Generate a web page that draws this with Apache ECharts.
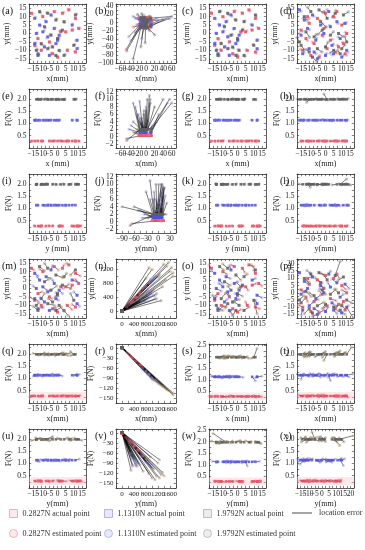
<!DOCTYPE html>
<html><head><meta charset="utf-8">
<script src="https://cdn.jsdelivr.net/npm/echarts@6/dist/echarts.min.js"></script>
<style>html,body{margin:0;padding:0;background:#fff}#c{width:365px;height:550px}</style>
</head><body><div id="c"></div>
<script>
// ---------------- DATA ----------------
const FORCE_LEVELS = [0.2827, 1.1310, 1.9792];
const FORCE_NAMES = ['0.2827N', '1.1310N', '1.9792N'];
const N1 = 18; // points per force level, dataset 1
const N2 = 22; // points per force level, dataset 2

// Dataset 1 actual positions (red block, blue block, grey block)
const X1 = [-16,-9,-2,3,7,11,13,2,5,9,-12,-14,-10,-3,0,6,11,-5,
            -14,-11,-7,-4,-13,-9,-6,-2,-14,-12,-8,-1,1,0,9,12,12,-5,
            -11,-6,-1,4,11,-8,-4,0,-10,-6,-3,1,-13,-12,3,10,4,-1];
const Y1 = [12,10,13,12,14,9,3,1,1,2,-3,-7,-10,-12,-14,-10,-11,-5,
            9,5,7,11,0,1,-2,3,-6,-12,-8,-6,-1,-4,5,-4,-9,-13,
            13,12,8,7,11,4,-1,-3,-6,-9,-8,-10,-10,-13,2,-7,-13,-13];

// Dataset 2 actual positions
const X2 = [-15,-10,-5,0,5,10,13,-12,-7,-2,3,8,12,-14,-9,-4,1,6,11,-11,-1,7,
            -16,-13,-8,-3,2,7,12,-15,-11,-6,-1,4,9,13,-14,-10,-5,0,5,10,-7,3,
            -13,-9,-4,1,6,11,-16,-12,-7,-2,3,8,13,-15,-10,-5,0,5,10,-3,9,-8];
const Y2 = [2,6,9,12,10,5,0,-3,-6,-1,-4,-8,-12,-10,-13,-14,-9,-11,-6,10,3,13,
            14,8,11,5,13,7,6,-1,3,-4,0,-7,-3,-10,-12,-9,-15,-13,-12,-14,-11,4,
            10,13,14,9,12,11,-5,1,-2,2,-1,0,-5,-7,-11,-9,-8,-10,-9,7,-12,-14];

// Method (a): estimation errors
const A_DX = [0.6,-0.4,0.3,0.8,-0.5,0.2,0.7,-0.6,0.4,0.5,-0.3,0.6,0.4,-0.7,0.5,0.3,-0.4,0.6,
  0.5,0.7,-0.4,0.3,0.6,0.8,-0.5,0.4,0.7,0.5,-0.3,0.6,0.4,0.8,0.3,-0.6,0.5,0.7,
  0.4,-0.5,0.6,0.3,0.7,0.5,-0.4,0.6,0.3,0.8,-0.3,0.5,0.6,0.4,-0.6,0.5,0.7,0.3];
const A_DY = [-0.4,0.5,-0.3,0.6,0.4,-0.5,0.3,0.6,-0.4,0.5,0.3,-0.6,0.4,0.5,-0.3,0.6,0.4,-0.5,
  0.6,-0.4,0.5,-0.3,0.4,0.6,-0.5,0.3,0.5,-0.4,0.6,0.3,-0.5,0.4,0.6,-0.3,0.5,0.4,
  -0.5,0.4,0.6,-0.3,0.5,-0.6,0.4,0.3,-0.5,0.6,0.4,-0.4,0.5,0.3,-0.6,0.4,0.5,-0.3];
const A_DF = [0.01,-0.01,0.02,-0.02,0.01,0.01,-0.01,0.02,-0.01,0.01,0.02,-0.01,0.01,-0.02,0.01,0.01,-0.01,0.02,
  0.02,-0.01,0.01,0.02,-0.02,0.01,0.01,-0.01,0.02,0.01,-0.02,0.01,0.02,-0.01,0.01,0.02,-0.01,0.01,
  -0.01,0.02,0.01,-0.02,0.01,0.02,-0.01,0.01,0.02,-0.01,0.01,-0.02,0.02,0.01,-0.01,0.02,0.01,-0.01];

// Method (b): estimated values (large errors)
const B_EX = [-18,-12,-5,2,5,8,10,1,3,6,-46,-20,-14,-6,-2,4,9,-30,
  -30,-25,-15,-5,-22,-12,-8,5,-40,-35,-18,0,10,15,25,30,50,-10,
  -20,-10,0,10,60,-15,-6,3,-25,-12,-5,8,-45,-30,40,55,20,-2];
const B_EY = [10,8,12,10,12,7,2,0,0,1,-66,-9,-13,-15,-16,-12,-13,-11,
  15,10,12,18,-5,3,-4,8,-35,-45,-20,-10,2,-2,10,5,12,-40,
  20,22,12,15,15,6,-3,-5,-25,-60,-12,-20,-70,-90,8,10,-30,-50];
const B_EF = [0.2,0.5,0.3,0.8,0.4,0.2,0.6,0.9,0.3,0.4,-0.5,0.7,0.2,0.5,0.3,0.6,0.4,1.2,
  9,8,9.5,7,6,5,4,5,2,3,6,8,10,3,4,6,9,1,
  2,5,7,9,9,4,3,10,1,4,6,11,-1,4,10,10,8,3];

// Method (c): estimation errors
const C_DX = [-0.5,0.6,0.4,-0.3,0.7,0.5,-0.6,0.3,0.8,-0.4,0.5,0.3,-0.5,0.6,0.4,-0.7,0.5,0.3,
  0.4,-0.6,0.7,0.5,-0.3,0.6,0.4,-0.5,0.3,0.7,0.5,-0.4,0.6,0.3,-0.7,0.5,0.4,-0.3,
  0.7,0.4,-0.6,0.5,0.3,-0.4,0.8,0.5,-0.3,0.6,0.4,-0.5,0.3,0.7,0.5,-0.4,0.6,0.8];
const C_DY = [0.5,-0.3,0.6,0.4,-0.6,0.3,0.5,-0.4,0.6,0.3,-0.5,0.4,0.6,-0.3,0.5,0.4,-0.6,0.3,
  -0.3,0.5,0.4,-0.6,0.3,0.5,0.4,-0.3,0.6,-0.5,0.4,0.3,0.6,-0.4,0.5,0.3,-0.6,0.4,
  0.4,-0.6,0.3,0.5,-0.4,0.6,0.3,-0.5,0.4,0.3,-0.6,0.5,0.4,-0.3,0.6,0.4,-0.5,0.3];
const C_DF = [-0.01,0.02,0.01,-0.01,0.02,-0.02,0.01,0.01,-0.01,0.02,0.01,-0.02,0.01,0.02,-0.01,0.01,0.02,-0.01,
  0.01,0.02,-0.01,0.01,-0.02,0.02,0.01,-0.01,0.01,0.02,-0.01,0.02,0.01,-0.02,0.01,0.01,0.02,-0.01,
  0.02,-0.01,0.01,0.02,-0.02,0.01,0.02,-0.01,0.01,-0.02,0.02,0.01,-0.01,0.02,0.01,-0.01,0.02,0.01];

// Method (d): estimation errors (dataset 2)
const D_DX = [0.8,-0.6,1.2,-0.9,0.7,1.5,-0.8,0.9,-1.1,0.6,1.3,-0.7,0.9,-1.2,0.8,0.6,-1.0,1.1,-0.5,0.9,1.4,-0.8,
  1.0,-0.7,0.9,1.3,-1.1,0.6,0.8,-0.9,1.2,0.7,-0.6,1.0,-1.3,0.8,0.9,-0.7,1.1,0.6,-1.0,0.8,1.2,-0.5,
  1.6,-2.0,2.4,-2.0,-1.8,3.0,-1.5,2.2,1.4,-2.5,1.8,2.6,-1.2,2.0,-1.6,2.8,1.5,-2.2,1.9,3.2,-1.4,2.5];
const D_DY = [-0.7,0.9,-1.1,0.8,-0.6,1.0,0.7,-1.2,0.9,-0.8,0.6,1.1,-0.9,0.7,-1.0,0.8,1.2,-0.6,0.9,-1.1,0.7,0.8,
  -0.9,1.1,-0.7,0.8,1.2,-1.0,0.6,0.9,-0.8,1.3,-0.6,0.7,1.0,-1.1,0.8,-0.9,0.6,1.2,-0.7,0.9,-1.0,0.8,
  -2.0,2.5,-1.6,4.0,-2.2,1.8,2.6,-3.2,1.5,-2.4,2.0,-1.8,3.4,-2.6,1.6,-2.0,2.8,-1.5,2.2,-3.0,1.9,-2.5];
const D_DF = [0.01,-0.01,0.02,-0.01,0.01,0.02,-0.02,0.01,-0.01,0.02,0.01,-0.01,0.02,-0.01,0.01,0.01,-0.02,0.01,0.02,-0.01,0.01,0.02,
  0.02,-0.02,0.01,0.03,-0.01,0.02,-0.03,0.01,0.02,-0.02,0.03,0.01,-0.01,0.02,0.03,-0.02,0.01,0.02,-0.03,0.01,0.02,-0.01,
  0.02,-0.03,0.01,0.22,-0.02,0.03,0.01,-0.02,0.03,-0.01,0.02,0.03,-0.02,0.01,-0.12,0.02,-0.03,0.01,0.02,-0.02,0.03,0.01];

// Method (m): estimation errors
const M_DX = [1.5,-2,2.5,1,-1.5,3,-2,1.5,2,-1,2.5,-3,1,2,-1.5,3,-2,1.5,
  2,-1.5,3,1,-2,2.5,1.5,-1,2,3,-2.5,1.5,2,-1,3,-2,1.5,2.5,
  3,-2,4,1.5,-3,2.5,3.5,-1.5,2,4,-2.5,3,1.5,-3,5,-2,2.5,3.5];
const M_DY = [-1,1.5,-2,2,1,-1.5,2.5,-1,1.5,-2,1,2,-1.5,1,2,-2.5,1.5,-1,
  -1.5,2,-1,2.5,1.5,-2,1,2,-1.5,1,2.5,-1,-2,1.5,-1,2,-1.5,1,
  -2.5,3,-1.5,2,-3,1.5,2.5,-2,3,-1,2,-3.5,1.5,2.5,-2,4,-3,2];
const M_DF = [0.02,-0.03,0.01,0.03,-0.02,0.02,-0.01,0.03,-0.02,0.01,0.02,-0.03,0.02,0.01,-0.02,0.03,-0.01,0.02,
  0.04,-0.03,0.02,0.05,-0.04,0.03,-0.02,0.04,0.03,-0.05,0.02,0.04,-0.03,0.02,0.05,-0.02,0.03,-0.04,
  0.05,-0.04,0.06,0.03,-0.05,0.04,0.02,-0.06,0.05,0.03,-0.04,0.06,-0.03,0.04,0.05,0.12,-0.05,0.04];

// Method (n): estimated values (very large errors)
const N_EX = [300,450,600,200,350,500,700,250,400,550,650,150,800,300,450,900,350,600,
  900,1000,850,1100,950,800,1050,700,1200,900,1000,750,1150,850,950,1100,1000,650,
  1500,1700,1400,1200,1000,1600,1300,1100,900,1450,1250,1550,1350,1650,800,1050,1700,1150];
const N_EY = [250,400,550,180,300,420,650,230,380,500,600,120,700,260,400,800,330,520,
  400,500,350,450,800,300,900,650,1000,450,850,700,350,600,900,1000,550,300,
  1300,1100,1350,1000,1200,1150,300,350,1250,900,1050,1400,700,1250,950,600,1000,500];
const N_EF = [-25,-38,-52,-17,-30,-43,-60,-21,-34,-47,-55,-13,-68,-26,-38,-77,-30,-51,
  -80,-92,-78,-98,-88,-72,-95,-65,-105,-82,-90,-70,-100,-78,-86,-97,-93,-60,
  -125,-140,-118,-105,-90,-130,-112,-96,-80,-122,-108,-128,-115,-135,-72,-95,-135,-100];

// Method (o): estimation errors
const O_DX = [-1.5,2.5,-2,1.5,3,-1,2,-2.5,1.5,2.5,-2,1,3,-1.5,2,-1,2.5,-2,
  -2,1.5,2.5,-1,3,-2.5,1,2,-1.5,3,1.5,-2,2.5,-1.5,2,3,-1,2,
  2.5,-3,3,2,-2.5,3.5,-2,3,2.5,-1.5,4,-3,2,3.5,-2.5,2,3,-2];
const O_DY = [2,-1.5,1,-2.5,-1,2,-1.5,2.5,-2,1,-1.5,2.5,-1,-2,1.5,2,-1,2.5,
  1.5,-2,-1,2.5,-1.5,2,-2.5,1,2,-1,1.5,-2,2.5,1,1,-1.5,2,-2.5,
  -2,2.5,-3,1.5,3,-2,2.5,-1.5,3,-2.5,1.5,2,-3,2.5,-2,-8,2,-3];
const O_DF = [0.02,-0.02,0.03,-0.01,0.02,0.03,-0.02,0.01,0.02,-0.03,0.01,0.02,-0.02,0.03,0.01,-0.02,0.02,0.01,
  0.03,-0.04,0.05,0.02,-0.03,0.04,-0.05,0.03,0.02,-0.04,0.05,0.03,-0.02,0.04,-0.18,0.03,-0.04,0.02,
  0.04,-0.05,0.06,0.03,-0.04,0.05,0.07,-0.03,0.05,-0.06,0.04,0.03,-0.05,0.06,0.04,0.38,-0.04,0.05];

// Method (p): estimation errors (dataset 2)
const P_DX = [2.0,-1.5,3.0,-2.5,1.5,2.5,-3.0,1.0,2.5,-2.0,3.5,-1.5,2.0,-2.5,1.5,3.0,-2.0,2.5,-1.0,3.0,-2.5,1.5,
  -2.5,3.0,-1.5,2.0,1.0,-3.0,2.5,1.5,-2.0,3.0,-2.5,1.5,2.0,4.0,-1.0,2.5,-3.0,1.5,2.0,-2.5,3.0,-1.5,
  3.0,-2.5,3.5,-2.0,3.0,-3.5,2.5,3.0,-3.0,2.0,3.5,-2.5,3.0,2.5,-3.0,4.0,-2.0,3.0,2.5,-3.5,3.0,-2.0];
const P_DY = [-1.5,2.5,-2.0,1.5,3.0,-2.5,2.0,-3.0,1.5,2.5,-1.5,-2.0,3.0,1.5,-2.5,2.0,-1.5,3.0,-2.0,1.5,2.5,-3.0,
  2.0,-2.5,3.0,-1.5,2.0,2.5,-3.0,1.5,-2.0,2.5,3.0,-1.5,2.0,-7.5,-3.5,2.5,-1.5,3.0,-2.5,1.5,-2.0,3.0,
  -3.0,2.5,-2.0,3.5,10.0,-2.5,3.0,-3.5,2.0,-3.0,3.5,2.5,-2.0,3.0,-3.5,2.5,-3.0,2.0,-2.5,3.5,-3.0,2.5];
const P_DF = [0.03,-0.04,0.02,0.05,-0.03,0.04,-0.02,0.03,0.05,-0.04,0.02,0.03,-0.05,0.04,0.02,-0.03,0.05,0.03,-0.02,0.04,0.03,-0.04,
  0.06,-0.05,0.08,-0.04,-0.22,0.05,-0.07,0.06,0.04,-0.08,0.05,0.07,-0.06,0.05,-0.16,0.06,-0.05,0.08,0.04,-0.06,0.07,-0.08,
  0.08,-0.10,0.06,-0.25,0.15,0.09,-0.07,0.10,-0.08,0.12,0.07,-0.09,0.30,0.08,-0.11,0.06,-0.12,0.09,0.07,-0.10,0.08,0.11];

// ---------------- BUILD ----------------
const F1 = X1.map((_, i) => FORCE_LEVELS[Math.floor(i / N1)]);
const F2 = X2.map((_, i) => FORCE_LEVELS[Math.floor(i / N2)]);
const plus = (a, d) => a.map((v, i) => v + d[i]);

const METHODS = {
  a: {ax: X1, ay: Y1, af: F1, n: N1, ex: plus(X1, A_DX), ey: plus(Y1, A_DY), ef: plus(F1, A_DF)},
  b: {ax: X1, ay: Y1, af: F1, n: N1, ex: B_EX, ey: B_EY, ef: B_EF},
  c: {ax: X1, ay: Y1, af: F1, n: N1, ex: plus(X1, C_DX), ey: plus(Y1, C_DY), ef: plus(F1, C_DF)},
  d: {ax: X2, ay: Y2, af: F2, n: N2, ex: plus(X2, D_DX), ey: plus(Y2, D_DY), ef: plus(F2, D_DF)},
  m: {ax: X1, ay: Y1, af: F1, n: N1, ex: plus(X1, M_DX), ey: plus(Y1, M_DY), ef: plus(F1, M_DF)},
  n: {ax: X1, ay: Y1, af: F1, n: N1, ex: N_EX, ey: N_EY, ef: N_EF},
  o: {ax: X1, ay: Y1, af: F1, n: N1, ex: plus(X1, O_DX), ey: plus(Y1, O_DY), ef: plus(F1, O_DF)},
  p: {ax: X2, ay: Y2, af: F2, n: N2, ex: plus(X2, P_DX), ey: plus(Y2, P_DY), ef: plus(F2, P_DF)}
};

// axis specs
const MM = {min: -17.5, max: 17.5, step: 2.5, lab: 5, lo: -15, hi: 15};
const FN = {min: 0, max: 2.4, step: 0.25, lab: 0.5, lo: 0.5, hi: 2.0, dec: 1};
const FN25 = {min: 0, max: 2.55, step: 0.25, lab: 0.5, lo: 0.5, hi: 2.5, dec: 1};
const BX = {min: -70, max: 70, step: 10, lab: 20, lo: -60, hi: 60};
const BY = {min: -100, max: 46, step: 10, lab: 20, lo: -100, hi: 40};
const BF = {min: -3, max: 12.7, step: 1, lab: 2, lo: -2, hi: 12};
const JX = {min: -105, max: 45, step: 15, lab: 30, lo: -90, hi: 30};
const NX = {min: -200, max: 1800, step: 200, lab: 400, lo: 0, hi: 1600, fs: 7};
const NY = {min: -200, max: 1500, step: 200, lab: 400, lo: 0, hi: 1200, fs: 7};
const RF = {min: -165, max: 12, step: 15, lab: 30, lo: -150, hi: 0, fs: 7};
const PY = {min: -17.5, max: 23.5, step: 2.5, lab: 5, lo: -15, hi: 20};
const XX = {min: -17.5, max: 22.5, step: 2.5, lab: 5, lo: -15, hi: 20};

// [label, method, kind, col, row, xSpec, ySpec, xName, yName, yGap, band]
const PANELS = [
  ['a','a','xy',0,0,MM,MM,'x(mm)','y(mm)',15,false],
  ['b','b','xy',1,0,BX,BY,'x(mm)','y(mm)',19,false],
  ['c','c','xy',2,0,MM,MM,'x(mm)','y(mm)',15,false],
  ['d','d','xy',3,0,MM,MM,'x(mm)','y(mm)',15,false],
  ['e','a','fx',0,1,MM,FN,'x (mm)','F(N)',14,false],
  ['f','b','fx',1,1,BX,BF,'x(mm)','F(N)',13,false],
  ['g','c','fx',2,1,MM,FN,'x (mm)','F(N)',14,false],
  ['h','d','fx',3,1,MM,FN,'x(mm)','F(N)',14,false],
  ['i','a','fy',0,2,MM,FN,'y (mm)','F(N)',14,false],
  ['j','b','fy',1,2,JX,BF,'y(mm)','F(N)',13,false],
  ['k','c','fy',2,2,MM,FN,'y (mm)','F(N)',14,false],
  ['l','d','fy',3,2,MM,FN,'y(mm)','F(N)',14,false],
  ['m','m','xy',0,3,MM,MM,'x(mm)','y(mm)',15,false],
  ['n','n','xy',1,3,NX,NY,'x(mm)','y(mm)',19,false],
  ['o','o','xy',2,3,MM,MM,'x(mm)','y (mm)',15,false],
  ['p','p','xy',3,3,MM,PY,'x(mm)','y(mm)',15,false],
  ['q','m','fx',0,4,MM,FN,'x(mm)','F(N)',14,true],
  ['r','n','fx',1,4,NX,RF,'x(mm)','F(N)',18,false],
  ['s','o','fx',2,4,MM,FN25,'x (mm)','F(N)',14,true],
  ['t','p','fx',3,4,MM,FN,'x(mm)','F(N)',14,true],
  ['u','m','fy',0,5,MM,FN,'y(mm)','F(N)',14,true],
  ['v','n','fy',1,5,NX,RF,'y(mm)','F(N)',18,false],
  ['w','o','fy',2,5,MM,FN25,'y(mm)','F(N)',14,true],
  ['x','p','fy',3,5,XX,FN,'y(mm)','F(N)',14,true]
];

// ---------------- LAYOUT / STYLE ----------------
const COL_LEFT = [29, 116, 209, 297];
const COL_W = [57, 60, 57, 57];
const ROW_TOP = [4, 89, 174, 259, 344, 429];
const ROW_H = 59;
const LABEL_X = [2, 95, 182, 280];
const FONT = '"Liberation Serif", "DejaVu Serif", serif';
const COLORS = ['#e5485a', '#5050d8', '#5e5e5e'];
const EST_COLORS = ['rgba(238,110,122,0.5)', 'rgba(118,118,232,0.45)', 'rgba(100,100,100,0.45)'];
const EST_COLORS_LATE = ['rgba(238,110,122,0.5)', 'rgba(118,118,232,0.45)', 'rgba(160,140,95,0.55)'];

function isLabel(v, s) {
  const r = v / s.lab;
  return Math.abs(r - Math.round(r)) < 1e-6 && v >= s.lo - 1e-9 && v <= s.hi + 1e-9;
}
function fmt(v, s) {
  const t = s.dec ? v.toFixed(s.dec) : String(Math.round(v));
  return t.replace('-', '\u2212');
}
function axis(s, gi, pos, primary, name, gap) {
  return {
    type: 'value', gridIndex: gi, position: pos, min: s.min, max: s.max, interval: s.step,
    axisLine: {show: true, onZero: false, lineStyle: {color: '#333', width: 0.8}},
    axisTick: {show: true, inside: true, length: 2.2, lineStyle: {color: '#333', width: 0.6}},
    axisLabel: {show: primary, fontSize: s.fs || 7.5, fontFamily: FONT, color: '#222', margin: 2.5,
      formatter: v => isLabel(v, s) ? fmt(v, s) : ''},
    splitLine: {show: false},
    name: primary ? name : '', nameLocation: 'middle', nameGap: gap,
    nameTextStyle: {fontSize: 8, fontFamily: FONT, color: '#222'}
  };
}

const grid = [], xAxis = [], yAxis = [], series = [], graphic = [];
PANELS.forEach((p, gi) => {
  const [lab, mk, kind, c, r, xs, ys, xName, yName, yGap, band] = p;
  const M = METHODS[mk];
  grid.push({left: COL_LEFT[c], top: ROW_TOP[r], width: COL_W[c], height: ROW_H});
  xAxis.push(axis(xs, gi, 'bottom', true, xName, 12));
  xAxis.push(axis(xs, gi, 'top', false, '', 0));
  yAxis.push(axis(ys, gi, 'left', true, yName, yGap));
  yAxis.push(axis(ys, gi, 'right', false, '', 0));
  const xi = gi * 2, yi = gi * 2;
  let A0, A1, E0, E1;
  if (kind === 'xy') { A0 = M.ax; A1 = M.ay; E0 = M.ex; E1 = M.ey; }
  else if (kind === 'fx') { A0 = M.ax; A1 = M.af; E0 = M.ex; E1 = M.ef; }
  else { A0 = M.ay; A1 = M.af; E0 = M.ey; E1 = M.ef; }
  const lines = A0.map((_, i) => ({coords: [[A0[i], A1[i]], [E0[i], E1[i]]]}));
  series.push({
    type: 'lines', name: 'location error', coordinateSystem: 'cartesian2d',
    xAxisIndex: xi, yAxisIndex: yi, data: lines, silent: true,
    lineStyle: {color: '#000', width: 0.6, opacity: 0.85},
    markArea: band ? {silent: true, itemStyle: {color: 'rgba(248,190,200,0.35)'},
      data: [[{yAxis: 0.12}, {yAxis: 0.45}]]} : undefined
  });
  const estCols = r >= 3 ? EST_COLORS_LATE : EST_COLORS;
  const sA = kind === 'xy' ? 3.0 : 2.6, sE = kind === 'xy' ? 3.4 : 3.0;
  for (let g = 0; g < 3; g++) {
    const idx = A0.map((_, i) => i).filter(i => Math.floor(i / M.n) === g);
    series.push({
      type: 'scatter', name: FORCE_NAMES[g] + ' actual point', xAxisIndex: xi, yAxisIndex: yi,
      symbol: 'rect', symbolSize: sA, data: idx.map(i => [A0[i], A1[i]]),
      itemStyle: {color: COLORS[g], opacity: 0.85}
    });
    series.push({
      type: 'scatter', name: FORCE_NAMES[g] + ' estimated point', xAxisIndex: xi, yAxisIndex: yi,
      symbol: 'circle', symbolSize: sE, data: idx.map(i => [E0[i], E1[i]]),
      itemStyle: {color: estCols[g]}
    });
  }
  graphic.push({type: 'text', left: LABEL_X[c], top: ROW_TOP[r] + 2,
    style: {text: '(' + lab + ')', font: '10px ' + FONT, fill: '#111'}});
});

// Legend (7 single-item legends)
const LEG_X = [9, 104, 203];
const LEG_Y = [509, 529];
const legend = [];
const LEG_FILL = ['rgba(240,150,160,0.25)', 'rgba(150,150,235,0.25)', 'rgba(170,170,170,0.25)'];
const LEG_BORDER = ['#f0a0aa', '#a8a8ee', '#b4b4b4'];
for (let g = 0; g < 3; g++) {
  ['actual point', 'estimated point'].forEach((kind, k) => {
    legend.push({
      left: LEG_X[g], top: LEG_Y[k], padding: 0, itemWidth: 8, itemHeight: 8, selectedMode: false,
      textStyle: {fontSize: 8, fontFamily: FONT, color: '#333'},
      data: [{name: FORCE_NAMES[g] + ' ' + kind, icon: k === 0 ? 'rect' : 'circle',
        itemStyle: {color: LEG_FILL[g], borderColor: LEG_BORDER[g], borderWidth: 1}}]
    });
  });
}
legend.push({
  left: 292, top: LEG_Y[0], padding: 0, itemWidth: 20, itemHeight: 8, selectedMode: false,
  textStyle: {fontSize: 8, fontFamily: FONT, color: '#333', padding: [0, 0, 0, 2]},
  data: [{name: 'location error', icon: 'path://M0,3.6 L20,3.6 L20,4.4 L0,4.4 Z',
    itemStyle: {color: '#222', borderWidth: 0, borderColor: 'transparent'}}]
});

const chart = echarts.init(document.getElementById('c'), null, {renderer: 'canvas'});
chart.setOption({animation: false, grid, xAxis, yAxis, series, graphic, legend});
</script></body></html>
